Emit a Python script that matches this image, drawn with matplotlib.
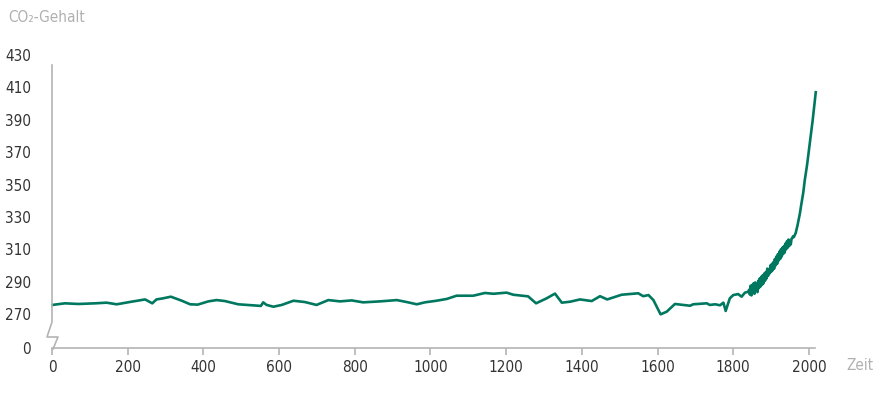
import numpy as np
import matplotlib.pyplot as plt
from matplotlib.lines import Line2D
from matplotlib import font_manager

# CO2 content over time (ppm)
years = [1, 34, 70, 114, 144, 171, 210, 246, 265, 276, 294, 314, 343, 365, 385,
         413, 435, 457, 492, 528, 552, 558, 567, 585, 607, 638, 668, 699, 730,
         761, 792, 822, 867, 911, 937, 964, 985, 1016, 1043, 1069, 1113, 1144,
         1166, 1201, 1219, 1258, 1279, 1307, 1329, 1342, 1347, 1369, 1395, 1426,
         1448, 1467, 1505, 1549, 1562, 1576, 1589, 1608, 1624, 1646, 1686, 1694,
         1730, 1738, 1752, 1765, 1774, 1780, 1791, 1800, 1813, 1822, 1831, 1840]
co2 = [275.6, 276.6, 276.2, 276.6, 277.0, 276.0, 277.6, 279.0, 276.6, 279.0,
       279.7, 280.7, 278.2, 276.0, 275.8, 277.8, 278.6, 278.0, 276.0, 275.4,
       275.0, 277.2, 275.6, 274.5, 275.6, 278.2, 277.4, 275.6, 278.6, 277.8,
       278.4, 277.2, 277.8, 278.6, 277.4, 276.0, 277.2, 278.2, 279.3, 281.3,
       281.3, 283.0, 282.5, 283.2, 281.9, 280.9, 276.6, 279.7, 282.6, 278.6,
       277.0, 277.6, 279.0, 278.0, 281.0, 279.0, 281.9, 282.8, 281.0, 281.7,
       278.6, 269.8, 271.4, 276.2, 275.1, 276.0, 276.6, 275.6, 276.0, 275.4,
       277.0, 271.9, 279.7, 281.7, 282.3, 280.7, 283.2, 283.8]

# noisy ice-core section
years_noisy = list(range(1842, 1960, 2))
co2_noisy = [285, 282, 287.5, 281.5, 288, 283, 289, 282.5, 289.5, 285, 288, 283.5,
             290.5, 286, 292, 287, 293, 288, 294, 289, 295, 290.5,
             296, 292, 298, 293.5, 297.5, 295, 300, 296, 301, 297,
             302, 298, 304, 300, 305.5, 301, 307, 303, 308.5, 304,
             310, 305.5, 311, 307, 312, 308, 313.5, 310, 315, 311,
             316, 312, 314.5, 313, 316.5, 317, 318]

# modern rise
years_modern = [1960, 1965, 1970, 1976, 1980, 1985, 1989, 1995, 2001, 2005, 2010, 2015, 2018]
co2_modern = [317.5, 320, 325, 332, 338, 345, 352.7, 362, 373, 380, 390, 401, 407]

x_all = years + years_noisy + years_modern
y_all = co2 + co2_noisy + co2_modern

xticks = list(range(0, 2001, 200))
yticks = [249, 270, 290, 310, 330, 350, 370, 390, 410, 430]
ytick_labels = ['0', '270', '290', '310', '330', '350', '370', '390', '410', '430']

green = '#00785f'
axis_gray = '#b4b4b4'
label_gray = '#b0b0b0'
text_dark = '#333333'

avail = {f.name for f in font_manager.fontManager.ttflist}
print(sorted(avail))
if 'DejaVu Sans Condensed' in avail:
    fonts = ['DejaVu Sans Condensed', 'DejaVu Sans']
    fs = 13
else:
    fonts = ['DejaVu Sans']
    fs = 11
plt.rcParams['font.family'] = fonts
plt.rcParams['font.stretch'] = 'condensed'

W, H = 876, 404
fig = plt.figure(figsize=(W / 100, H / 100), dpi=100)
ax = fig.add_axes([52 / W, (H - 348) / H, 763 / W, 293 / H])

ax.plot(x_all, y_all, color=green, lw=1.9, clip_on=False, solid_joinstyle='round')

ax.set_xlim(0, 2016)
ax.set_ylim(249, 430)
ax.set_xticks(xticks)
ax.set_yticks(yticks)
ax.set_yticklabels(ytick_labels)

for s in ['top', 'right', 'left']:
    ax.spines[s].set_visible(False)
ax.spines['bottom'].set_color(axis_gray)
ax.spines['bottom'].set_linewidth(1.2)

ax.tick_params(axis='x', length=5, width=1.2, color=axis_gray, pad=4,
               labelsize=fs, labelcolor=text_dark)
ax.tick_params(axis='y', length=0, pad=15, labelsize=fs, labelcolor=text_dark)

# left axis with break marker (figure pixel coords)
px = [52, 52, 47, 58, 53]
py = [65, 322, 337, 337, 349]
fig.add_artist(Line2D([p / W for p in px], [1 - p / H for p in py],
                      transform=fig.transFigure, color=axis_gray, lw=1.2))

fig.text(8 / W, 1 - 18 / H, 'CO₂-Gehalt', color=label_gray, fontsize=fs,
         va='center', ha='left')
fig.text(846 / W, 1 - 366 / H, 'Zeit', color=label_gray, fontsize=fs,
         va='center', ha='left')

fig.savefig('out.png', dpi=100)
